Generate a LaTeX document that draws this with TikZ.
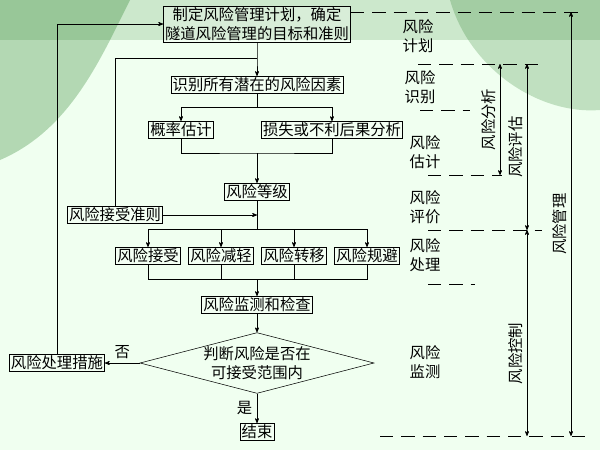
\documentclass[tikz,border=0pt]{standalone}
\usepackage{fontspec}
\newfontfamily\cjk{Noto Sans CJK SC}
\usetikzlibrary{arrows,shapes.geometric,positioning}

\begin{document}
\begin{tikzpicture}[x=0.75pt,y=-0.75pt,>=stealth',thin,font=\cjk\fontsize{11.5pt}{14pt}\selectfont,
  box/.style={draw,rectangle,inner sep=1.2pt,fill=white,fill opacity=0.25,text opacity=1},
  lab/.style={align=left,inner sep=0pt},
  sep/.style={dashed,dash pattern=on 10pt off 6pt},
  span/.style={<->,>=stealth',thin}]

    % background
    \useasboundingbox (0,0) rectangle (600,450);
    \fill[green!6!white] (0,0) rectangle (600,450);
    \fill[green!40!black,opacity=0.25] (0,0) -- (130,0) .. controls (100,60) and (70,130) .. (0,160) -- cycle;
    \fill[green!40!black,opacity=0.2] (450,0) -- (600,0) -- (600,110) .. controls (540,115) and (470,70) .. cycle;
    \fill[green!40!black,opacity=0.15] (0,0) rectangle (600,40);

    % The chart
    \node [box,align=center] at (257,24) (plan) {制定风险管理计划，确定\\隧道风险管理的目标和准则};
    \node [box] at (257,85) (ident) {识别所有潜在的风险因素};
    \node [box] at (181,130) (prob) {概率估计};
    \node [box] at (332,130) (loss) {损失或不利后果分析};
    \node [box] at (257,192) (level) {风险等级};
    \node [box] at (115,215) (crit) {风险接受准则};
    \node [box] at (148,256) (acc) {风险接受};
    \node [box] at (221,256) (red) {风险减轻};
    \node [box] at (294,256) (tra) {风险转移};
    \node [box] at (367,256) (avo) {风险规避};
    \node [box] at (257,305) (mon) {风险监测和检查};
    \node [draw,diamond,aspect=3.85,inner sep=0pt,align=center,
           minimum height=60*0.75pt,minimum width=231*0.75pt] at (257,363) (judge) {判断风险是否在\\可接受范围内};
    \node [box] at (57,363) (meas) {风险处理措施};
    \node [box] at (257,432) (done) {结束};
    \coordinate (s1) at (257,107);
    \coordinate (j1) at (257,153);
    \coordinate (s2) at (257,229);
    \coordinate (j2) at (257,279);

    % Chart branches
    \draw[->] (plan.south) |- (257,58) -- (ident.north);
    \draw (crit.north) |- (257,58);
    \draw (ident) -- (s1);
    \draw[->] (s1) -| (prob.north);
    \draw[->] (s1) -| (loss.north);
    \draw (prob.south) |- (j1) -| (loss.south);
    \draw[->] (j1) -- (level.north);
    \draw (level) -- (s2);
    \draw[->] (crit.east) -- (257,215);
    \foreach \n in {acc,red,tra,avo}
      \draw[->] (s2) -| (\n.north);
    \foreach \n in {acc,red,tra,avo}
      \draw (\n.south) |- (j2);
    \draw[->] (j2) -- (mon.north);
    \draw[->] (mon) -- (judge.north);
    \draw[->] (judge.west) -- node [above] {否} (meas.east);
    \draw[->] (judge.south) -- node [left] {是} (done.north);
    \draw[->] (meas.north) |- (plan.west);

    % Stages
    \node [lab] at (418,36) (st1) {风险\\计划};
    \node [lab] at (420,87) (st2) {风险\\识别};
    \node [lab] at (425,152) (st3) {风险\\估计};
    \node [lab] at (425,207) (st4) {风险\\评价};
    \node [lab] at (425,255) (st5) {风险\\处理};
    \node [lab] at (425,362) (st6) {风险\\监测};
    \draw[sep] (plan.east |- 0,12) -- (580,12);
    \draw[sep] (418,64) -- (542,64);
    \draw[sep] (420,110) -- (470,110);
    \draw[sep] (428,175) -- (502,175);
    \draw[sep] (428,230) -- (542,230);
    \draw[sep] (428,284) -- (475,284);
    \draw[sep] (380,436) -- (585,436);

    \draw[span] (500,64) -- node [rotate=90,anchor=south] {风险分析} (500,175);
    \draw[span] (527,64) -- node [rotate=90,anchor=south] {风险评估} (527,230);
    \draw[span] (527,230) -- node [rotate=90,anchor=south,pos=0.6] {风险控制} (527,436);
    \draw[span] (571,12) -- node [rotate=90,anchor=south] {风险管理} (571,436);
\end{tikzpicture}
\end{document}
